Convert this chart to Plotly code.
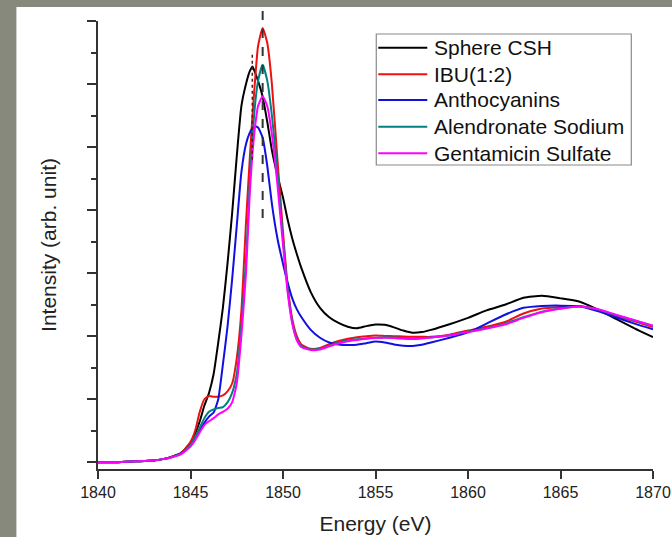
import plotly.graph_objects as go

# Energy grid (eV)
energy = [1840, 1841, 1842, 1843, 1843.5, 1844, 1844.5, 1845, 1845.25, 1845.5, 1845.75,
          1846, 1846.25, 1846.5, 1846.75, 1847, 1847.25, 1847.5, 1847.75, 1848, 1848.2,
          1848.35, 1848.5, 1848.65, 1848.9, 1849.15, 1849.4, 1849.7, 1850, 1850.25, 1850.5,
          1850.75, 1851, 1851.5, 1852, 1852.5, 1853, 1853.5, 1854, 1854.5, 1855, 1855.5,
          1856, 1856.5, 1857, 1857.5, 1858, 1859, 1860, 1861, 1862, 1863, 1864, 1865,
          1866, 1867, 1868, 1869, 1870]

sphere_csh = [0.0, 0.0, 0.003, 0.006, 0.01, 0.018, 0.03, 0.06, 0.09, 0.13, 0.18,
              0.22, 0.28, 0.38, 0.49, 0.63, 0.79, 0.97, 1.13, 1.2, 1.24,
              1.256, 1.235, 1.21, 1.16, 1.08, 0.99, 0.91, 0.84, 0.77, 0.71,
              0.66, 0.615, 0.54, 0.49, 0.46, 0.442, 0.43, 0.425, 0.432, 0.437, 0.436,
              0.428, 0.418, 0.411, 0.413, 0.42, 0.438, 0.458, 0.482, 0.5, 0.522, 0.528, 0.52,
              0.51, 0.485, 0.455, 0.425, 0.397]

ibu = [0.0, 0.0, 0.003, 0.006, 0.01, 0.018, 0.03, 0.065, 0.1, 0.16, 0.2,
       0.21, 0.208, 0.208, 0.212, 0.225, 0.25, 0.33, 0.48, 0.76, 0.96,
       1.1, 1.22, 1.32, 1.378, 1.33, 1.2, 0.96, 0.73, 0.56, 0.455,
       0.4, 0.373, 0.36, 0.363, 0.375, 0.385, 0.392, 0.397, 0.4, 0.402, 0.401,
       0.4, 0.399, 0.398, 0.398, 0.398, 0.405, 0.418, 0.43, 0.445, 0.472, 0.488, 0.493,
       0.496, 0.485, 0.465, 0.447, 0.429]

anthocyanins = [0.0, 0.0, 0.003, 0.006, 0.01, 0.017, 0.028, 0.055, 0.075, 0.1, 0.125,
                0.145, 0.158, 0.2, 0.31, 0.43, 0.58, 0.75, 0.92, 1.01, 1.045,
                1.06, 1.065, 1.062, 1.03, 0.94, 0.82, 0.71, 0.63, 0.57, 0.52,
                0.485, 0.46, 0.42, 0.395, 0.38, 0.374, 0.372, 0.373, 0.378, 0.383, 0.38,
                0.374, 0.37, 0.369, 0.373, 0.38, 0.395, 0.412, 0.44, 0.468, 0.49, 0.496, 0.497,
                0.495, 0.48, 0.46, 0.44, 0.422]

alendronate = [0.0, 0.0, 0.003, 0.006, 0.01, 0.017, 0.028, 0.055, 0.08, 0.11, 0.14,
               0.16, 0.168, 0.172, 0.175, 0.19, 0.22, 0.28, 0.43, 0.64, 0.88,
               1.03, 1.14, 1.21, 1.261, 1.21, 1.1, 0.92, 0.71, 0.55, 0.445,
               0.39, 0.368, 0.358, 0.36, 0.37, 0.38, 0.387, 0.39, 0.393, 0.395, 0.397,
               0.396, 0.394, 0.393, 0.394, 0.396, 0.402, 0.415, 0.425, 0.44, 0.46, 0.478, 0.488,
               0.494, 0.485, 0.467, 0.45, 0.433]

gentamicin = [0.0, 0.0, 0.003, 0.006, 0.01, 0.016, 0.026, 0.05, 0.07, 0.095, 0.118,
              0.13, 0.14, 0.152, 0.16, 0.17, 0.19, 0.25, 0.4, 0.6, 0.85,
              0.98, 1.07, 1.13, 1.161, 1.13, 1.04, 0.88, 0.69, 0.54, 0.44,
              0.387, 0.365, 0.356, 0.358, 0.368, 0.377, 0.384, 0.388, 0.392, 0.394, 0.395,
              0.394, 0.392, 0.391, 0.393, 0.396, 0.403, 0.413, 0.424, 0.437, 0.458, 0.476, 0.487,
              0.494, 0.486, 0.468, 0.451, 0.433]

series_names = ["Sphere CSH", "IBU(1:2)", "Anthocyanins", "Alendronate Sodium", "Gentamicin Sulfate"]
series_colors = ["#000000", "#ee1111", "#1010e0", "#008080", "#ff00ff"]
series_values = [sphere_csh, ibu, anthocyanins, alendronate, gentamicin]

x_ticks = [1840, 1845, 1850, 1855, 1860, 1865, 1870]
peak_line_energy = 1848.9
black_peak_energy = 1848.34

font_family = "Liberation Sans, Arial, sans-serif"

fig = go.Figure()
for name, color, vals in zip(series_names, series_colors, series_values):
    fig.add_trace(go.Scatter(x=energy, y=vals, mode="lines", name=name, showlegend=False,
                             line=dict(color=color, width=2, shape="spline", smoothing=0.5)))

# white card behind chart
fig.add_shape(type="rect", xref="paper", yref="paper", x0=-0.147, x1=1.1, y0=-0.3, y1=1.031,
              fillcolor="white", line=dict(width=0), layer="below")
# dashed vertical line at main peak
fig.add_shape(type="line", xref="x", yref="paper", x0=peak_line_energy, x1=peak_line_energy,
              y0=0.56, y1=1.025, line=dict(color="#333333", width=2, dash="dash"))
# dotted line at black peak
fig.add_shape(type="line", xref="x", yref="y", x0=black_peak_energy, x1=black_peak_energy,
              y0=0.96, y1=1.3, line=dict(color="#661111", width=1.5, dash="dot"))

# legend box (drawn in paper coordinates)
leg_x0, leg_x1, leg_y0, leg_y1 = 0.5014, 0.9609, 0.6786, 0.971
line_x0, line_x1, text_x = 0.505, 0.5933, 0.6023
entry_y = [0.9404, 0.881, 0.8237, 0.764, 0.7047]
fig.add_shape(type="rect", xref="paper", yref="paper", x0=leg_x0, x1=leg_x1, y0=leg_y0, y1=leg_y1,
              fillcolor="white", line=dict(color="#8a8a8a", width=1.2))
for name, color, ey in zip(series_names, series_colors, entry_y):
    fig.add_shape(type="line", xref="paper", yref="paper", x0=line_x0, x1=line_x1, y0=ey, y1=ey,
                  line=dict(color=color, width=2))
    fig.add_annotation(x=text_x, y=ey, xref="paper", yref="paper", text=name, showarrow=False,
                       xanchor="left", yanchor="middle",
                       font=dict(size=21, family=font_family, color="#111111"))

fig.update_layout(
    width=672, height=537,
    margin=dict(l=97.7, r=19.3, t=21, b=68),
    paper_bgcolor="#86897c", plot_bgcolor="white",
    font=dict(family=font_family, color="#222222"),
    showlegend=False,
)
fig.update_xaxes(range=[1840, 1870], tickvals=x_ticks, ticks="outside", ticklen=8, tickwidth=1.5,
                 tickcolor="#333333", showline=True, linecolor="#333333", linewidth=1.5,
                 showgrid=False, zeroline=False, automargin=False,
                 tickfont=dict(size=16, color="#222222"),
                 title=dict(text="Energy (eV)", font=dict(size=21, color="#222222"), standoff=16))
fig.update_yaxes(range=[-0.0213, 1.4], tickvals=[0, 0.2, 0.4, 0.6, 0.8, 1.0, 1.2, 1.4],
                 ticks="outside", ticklen=9, tickwidth=1.5, tickcolor="#333333",
                 minor=dict(dtick=0.1, ticks="outside", ticklen=5, tickwidth=1.5, tickcolor="#333333"),
                 showticklabels=False, showline=True, linecolor="#333333", linewidth=1.5,
                 showgrid=False, zeroline=False, automargin=False,
                 title=dict(text="Intensity (arb. unit)", font=dict(size=21, color="#222222"), standoff=25))

fig.write_html("out.html")
